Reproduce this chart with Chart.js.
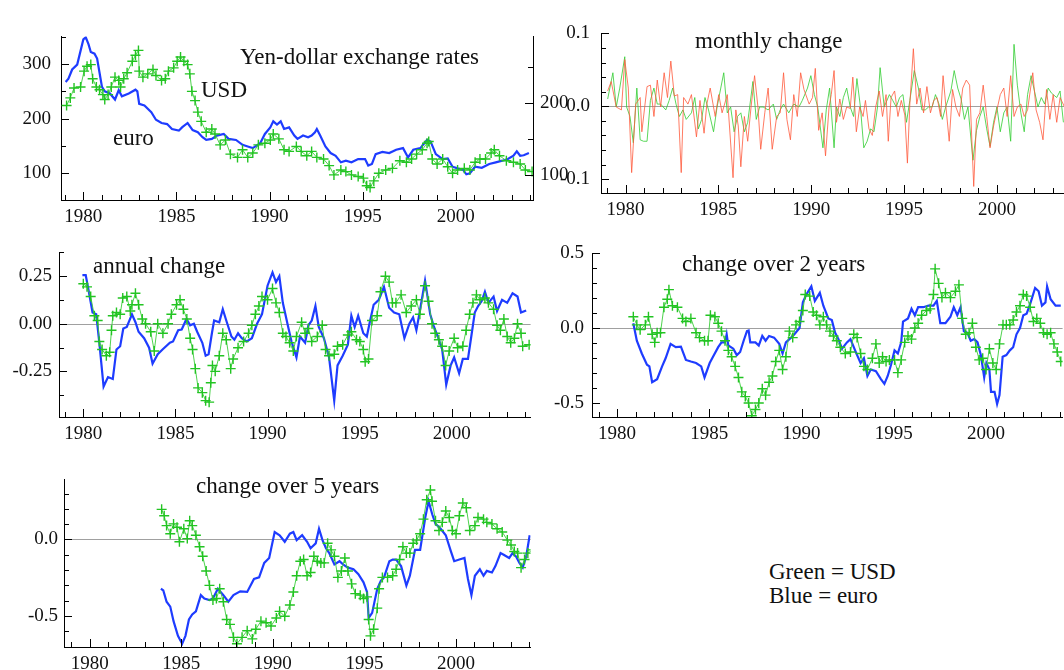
<!DOCTYPE html>
<html>
<head>
<meta charset="utf-8">
<script src="https://cdn.jsdelivr.net/npm/chart.js@4.4.0/dist/chart.umd.min.js"></script>
<style>
  html, body { margin: 0; padding: 0; width: 1064px; height: 670px; overflow: hidden; background: #fff; }
  canvas { position: absolute; }
  .lbl { position: absolute; font: 23px "Liberation Serif", serif; line-height: 23px; color: #111; white-space: nowrap; }
</style>
</head>
<body>
<canvas id="p1"></canvas>
<canvas id="p2"></canvas>
<canvas id="p3"></canvas>
<canvas id="p4"></canvas>
<canvas id="p5"></canvas>

<div class="lbl" style="left:240px;top:45px">Yen-dollar exchange rates</div>
<div class="lbl" style="left:201px;top:78px">USD</div>
<div class="lbl" style="left:113px;top:126px">euro</div>
<div class="lbl" style="left:695px;top:29px">monthly change</div>
<div class="lbl" style="left:93px;top:254px">annual change</div>
<div class="lbl" style="left:682px;top:252px">change over 2 years</div>
<div class="lbl" style="left:196px;top:474px">change over 5 years</div>
<div class="lbl" style="left:769px;top:560px">Green = USD</div>
<div class="lbl" style="left:769px;top:584px">Blue = euro</div>

<script>
// ---- data: [year, value] ----
const usdLevel = [[1979.1,224],[1979.3,238],[1979.5,256],[1979.85,258],[1980.04,287],[1980.2,296],[1980.4,299],[1980.5,273],[1980.7,258],[1980.87,253],[1981.05,244],[1981.15,235],[1981.33,244],[1981.5,258],[1981.7,276],[1981.9,270],[1982,258],[1982.17,273],[1982.35,284],[1982.63,305],[1982.8,316],[1982.96,325],[1983,287],[1983.2,276],[1983.46,282],[1983.74,290],[1983.9,279],[1984.2,270],[1984.4,273],[1984.57,287],[1984.85,293],[1985.04,305],[1985.22,313],[1985.4,305],[1985.6,299],[1985.72,282],[1985.83,250],[1986,233],[1986.15,212],[1986.33,195],[1986.6,175],[1986.9,181],[1987.07,172],[1987.35,152],[1987.63,161],[1987.9,135],[1988.28,129],[1988.55,143],[1988.83,129],[1989.1,137],[1989.4,152],[1989.75,155],[1990.04,161],[1990.2,172],[1990.5,163],[1990.78,143],[1991.05,140],[1991.44,149],[1991.7,140],[1992,132],[1992.26,140],[1992.54,129],[1992.9,126],[1993.2,114],[1993.46,97],[1993.83,106],[1994.1,103],[1994.4,97],[1994.76,94],[1995.04,91],[1995.22,77],[1995.4,74],[1995.6,86],[1995.87,100],[1996.24,106],[1996.6,109],[1997,123],[1997.35,120],[1997.63,126],[1997.9,135],[1998.2,143],[1998.46,155],[1998.55,158],[1998.74,126],[1999,117],[1999.3,126],[1999.57,112],[1999.83,100],[2000.1,106],[2000.46,109],[2000.76,106],[2001.04,120],[2001.3,126],[2001.6,126],[2001.9,137],[2002.07,143],[2002.35,132],[2002.72,123],[2003.1,120],[2003.46,117],[2003.74,106],[2004.1,103]];

const euroLevel = [[1979.05,267],[1979.2,273],[1979.4,290],[1979.67,299],[1980,345],[1980.13,349],[1980.28,336],[1980.4,322],[1980.6,319],[1980.74,310],[1980.87,284],[1981,258],[1981.15,250],[1981.43,246],[1981.7,235],[1981.9,252],[1982.07,241],[1982.44,246],[1982.8,253],[1982.9,250],[1983,227],[1983.28,224],[1983.65,212],[1983.9,198],[1984.2,192],[1984.5,190],[1984.76,181],[1985.13,178],[1985.3,184],[1985.6,192],[1985.87,179],[1986.15,175],[1986.4,166],[1986.6,161],[1986.9,163],[1987.17,169],[1987.54,172],[1987.8,163],[1988.2,161],[1988.55,152],[1988.83,149],[1989.1,146],[1989.5,155],[1989.75,172],[1990.04,184],[1990.2,195],[1990.4,189],[1990.6,195],[1990.78,181],[1991.05,184],[1991.33,169],[1991.5,163],[1991.8,169],[1992.07,166],[1992.26,169],[1992.44,175],[1992.54,181],[1992.72,169],[1993,149],[1993.28,137],[1993.55,132],[1993.83,120],[1994.1,123],[1994.4,120],[1994.76,126],[1995.13,126],[1995.3,114],[1995.5,117],[1995.7,135],[1996.06,139],[1996.43,137],[1996.8,143],[1997.17,146],[1997.44,129],[1997.72,143],[1998.1,146],[1998.46,161],[1998.65,158],[1998.93,135],[1999.3,126],[1999.57,127],[1999.83,112],[2000.1,109],[2000.4,106],[2000.57,98],[2000.76,100],[2001.04,112],[2001.4,110],[2001.8,117],[2002.15,120],[2002.5,123],[2002.8,126],[2003.1,132],[2003.28,140],[2003.46,132],[2003.65,133],[2003.93,137]];

const euroMonthly = [[1979.04,0.021],[1979.23,0.034],[1979.5,-0.001],[1979.78,-0.005],[1979.96,0.064],[1980.15,0.025],[1980.33,-0.091],[1980.55,0.003],[1980.79,0.012],[1980.88,-0.035],[1981.16,0.027],[1981.34,0.029],[1981.53,-0.014],[1981.71,0.036],[1981.89,-0.001],[1982.08,0.046],[1982.26,0.012],[1982.44,0.062],[1982.63,0.014],[1982.81,0.016],[1983.0,-0.091],[1983.13,0.012],[1983.36,0.003],[1983.55,0.016],[1983.82,-0.042],[1984.01,0.008],[1984.23,-0.037],[1984.38,0.003],[1984.56,0.025],[1984.83,-0.014],[1985.02,0.016],[1985.2,-0.009],[1985.48,0.016],[1985.79,-0.098],[1985.94,-0.005],[1986.07,-0.027],[1986.21,-0.083],[1986.4,-0.014],[1986.58,-0.048],[1986.76,-0.001],[1986.95,0.042],[1987.13,-0.001],[1987.28,-0.059],[1987.5,-0.009],[1987.68,0.025],[1987.9,-0.059],[1988.14,-0.014],[1988.33,-0.009],[1988.51,0.046],[1988.69,-0.018],[1988.88,-0.046],[1989.06,0.016],[1989.25,-0.014],[1989.43,0.046],[1989.61,0.023],[1989.89,0.003],[1990.07,0.012],[1990.22,0.052],[1990.4,-0.033],[1990.59,-0.009],[1990.77,-0.068],[1990.96,-0.001],[1991.08,0.016],[1991.23,0.049],[1991.36,-0.022],[1991.54,0.01],[1991.73,-0.018],[1991.91,-0.001],[1992.1,-0.003],[1992.24,0.04],[1992.43,-0.035],[1992.61,-0.001],[1992.79,-0.014],[1992.92,0.008],[1993.11,-0.031],[1993.29,-0.04],[1993.47,-0.001],[1993.66,0.021],[1993.84,-0.014],[1994.03,0.016],[1994.15,-0.048],[1994.3,0.012],[1994.49,0.021],[1994.67,-0.014],[1994.85,0.008],[1995.04,-0.012],[1995.18,-0.078],[1995.31,0.003],[1995.5,0.079],[1995.68,0.003],[1995.86,0.025],[1996.05,-0.009],[1996.23,0.027],[1996.42,-0.009],[1996.6,0.008],[1996.78,0.012],[1996.97,-0.014],[1997.1,0.042],[1997.24,0.003],[1997.43,-0.048],[1997.61,0.023],[1997.79,-0.001],[1997.98,-0.014],[1998.16,0.025],[1998.35,0.036],[1998.53,0.029],[1998.75,-0.11],[1998.9,-0.018],[1999.08,-0.009],[1999.26,0.029],[1999.45,-0.014],[1999.63,-0.057],[1999.82,-0.027],[2000,-0.005],[2000.18,0.016],[2000.37,0.025],[2000.55,-0.014],[2000.74,0.042],[2000.92,-0.014],[2001.1,-0.001],[2001.29,0.003],[2001.47,-0.014],[2001.65,-0.005],[2001.93,0.046],[2002.11,-0.005],[2002.3,-0.022],[2002.48,-0.046],[2002.67,0.023],[2002.85,-0.018],[2003.03,0.016],[2003.22,-0.022],[2003.4,0.012],[2003.64,-0.001]];

const usdMonthly = [[1979.04,0.01],[1979.32,0.046],[1979.5,-0.001],[1979.69,0.025],[1979.96,0.068],[1980.06,-0.001],[1980.24,-0.014],[1980.42,-0.05],[1980.61,0.025],[1980.79,-0.046],[1980.97,-0.048],[1981.16,-0.048],[1981.34,0.008],[1981.53,0.025],[1981.71,0.003],[1981.89,0.003],[1982.17,-0.005],[1982.35,0.008],[1982.54,0.025],[1982.72,0.003],[1982.9,-0.014],[1983.09,-0.005],[1983.27,-0.018],[1983.55,-0.009],[1983.73,0.012],[1983.92,-0.031],[1984.1,-0.018],[1984.28,0.012],[1984.47,-0.005],[1984.74,-0.035],[1984.93,-0.001],[1985.29,0.046],[1985.48,-0.009],[1985.66,-0.001],[1985.85,-0.035],[1986.03,-0.014],[1986.21,-0.009],[1986.4,-0.035],[1986.58,-0.022],[1986.86,0.034],[1987.04,-0.018],[1987.22,-0.001],[1987.41,-0.001],[1987.68,-0.005],[1987.96,0.003],[1988.14,-0.018],[1988.33,-0.005],[1988.51,0.003],[1988.79,-0.009],[1989.06,0.003],[1989.34,-0.001],[1989.52,0.008],[1989.8,0.025],[1989.98,0.042],[1990.17,0.016],[1990.35,-0.001],[1990.63,-0.057],[1990.81,-0.005],[1990.99,0.025],[1991.23,-0.057],[1991.36,-0.001],[1991.54,-0.014],[1991.73,0.012],[1991.91,0.025],[1992.1,-0.001],[1992.28,-0.014],[1992.46,0.038],[1992.65,-0.001],[1992.83,-0.057],[1993.01,-0.048],[1993.2,-0.031],[1993.38,-0.035],[1993.57,-0.001],[1993.71,0.053],[1993.93,-0.001],[1994.21,0.016],[1994.39,0.008],[1994.58,-0.001],[1994.76,0.012],[1994.94,0.016],[1995.13,-0.022],[1995.31,0.008],[1995.55,0.049],[1995.77,0.025],[1995.96,-0.005],[1996.14,-0.005],[1996.32,-0.001],[1996.51,-0.001],[1996.69,0.016],[1996.88,0.003],[1997.06,-0.018],[1997.24,-0.001],[1997.52,0.021],[1997.7,0.049],[1997.89,0.025],[1998.07,0.01],[1998.25,-0.018],[1998.44,-0.001],[1998.71,-0.074],[1998.9,-0.033],[1999.08,-0.014],[1999.26,-0.001],[1999.45,-0.031],[1999.63,-0.055],[1999.82,-0.022],[2000,-0.001],[2000.18,-0.035],[2000.37,-0.009],[2000.55,-0.001],[2000.74,-0.048],[2000.92,0.085],[2001.1,0.029],[2001.29,-0.009],[2001.47,-0.035],[2001.65,0.016],[2001.84,0.042],[2002.02,0.021],[2002.21,-0.001],[2002.39,0.012],[2002.57,0.003],[2002.76,0.025],[2002.94,0.018],[2003.22,0.012],[2003.4,0.021],[2003.58,-0.022]];

const euroAnnual = [[1979.95,0.256],[1980.13,0.256],[1980.3,0.168],[1980.5,0.059],[1980.7,0.05],[1980.87,-0.1],[1981.1,-0.33],[1981.34,-0.28],[1981.6,-0.29],[1981.8,-0.135],[1982,-0.118],[1982.17,-0.025],[1982.36,-0.017],[1982.64,0.05],[1982.83,0.008],[1983,-0.042],[1983.3,-0.076],[1983.57,-0.126],[1983.76,-0.21],[1984.04,-0.16],[1984.3,-0.135],[1984.7,-0.1],[1984.87,-0.093],[1985.15,-0.034],[1985.34,-0.03],[1985.6,0.025],[1985.8,-0.008],[1986,0],[1986.18,-0.042],[1986.46,-0.1],[1986.64,-0.168],[1986.8,-0.16],[1986.98,-0.05],[1987.1,0.017],[1987.38,0.008],[1987.57,0.076],[1987.76,0.017],[1988.04,-0.067],[1988.2,-0.084],[1988.4,-0.05],[1988.6,-0.076],[1988.87,-0.093],[1989.15,-0.076],[1989.43,0],[1989.7,0.05],[1990,0.2],[1990.27,0.27],[1990.46,0.219],[1990.64,0.25],[1990.83,0.11],[1991.1,-0.008],[1991.3,-0.093],[1991.57,-0.177],[1991.76,-0.067],[1992.04,-0.1],[1992.22,-0.008],[1992.4,0.017],[1992.6,0.093],[1992.78,-0.017],[1993.06,-0.076],[1993.34,-0.177],[1993.62,-0.404],[1993.8,-0.219],[1994.08,-0.168],[1994.36,-0.11],[1994.55,0.042],[1994.73,-0.017],[1994.92,0.042],[1995.2,-0.05],[1995.39,-0.067],[1995.57,0.017],[1995.76,0.1],[1996.04,0.126],[1996.32,0.194],[1996.6,0.084],[1996.87,0.059],[1997.15,0.05],[1997.43,-0.076],[1997.7,0],[1997.9,0.034],[1998.08,-0.034],[1998.27,0.067],[1998.55,0.227],[1998.83,0.05],[1999.01,-0.008],[1999.3,-0.084],[1999.48,-0.135],[1999.7,-0.32],[1999.94,-0.219],[2000.13,-0.177],[2000.4,-0.26],[2000.6,-0.185],[2000.88,-0.185],[2001.06,-0.067],[2001.25,0.059],[2001.43,0.093],[2001.62,0.118],[2001.8,0.168],[2001.99,0.11],[2002.27,0.143],[2002.46,0.067],[2002.73,0.126],[2003.01,0.11],[2003.3,0.16],[2003.57,0.143],[2003.76,0.059],[2004.04,0.07]];

const usdAnnual = [[1980,0.21],[1980.2,0.194],[1980.4,0.143],[1980.6,0.042],[1980.78,0.017],[1980.87,-0.093],[1981.02,-0.135],[1981.25,-0.168],[1981.43,-0.15],[1981.53,-0.034],[1981.6,0.042],[1981.8,0.059],[1982,0.05],[1982.14,0.135],[1982.36,0.143],[1982.55,0.067],[1982.64,0.1],[1982.83,0.16],[1983,0.1],[1983.2,0.025],[1983.38,0],[1983.66,-0.042],[1983.85,-0.143],[1984.04,0],[1984.32,-0.05],[1984.6,0],[1984.78,0.05],[1985.06,0.1],[1985.25,0.126],[1985.43,0.076],[1985.62,0.025],[1985.8,-0.076],[1985.93,-0.135],[1986.08,-0.236],[1986.23,-0.337],[1986.46,-0.362],[1986.64,-0.404],[1986.83,-0.412],[1986.92,-0.31],[1987.01,-0.219],[1987.16,-0.25],[1987.38,-0.168],[1987.57,-0.05],[1987.76,-0.084],[1988,-0.236],[1988.13,-0.185],[1988.4,-0.126],[1988.7,-0.093],[1988.97,-0.05],[1989.15,-0.008],[1989.34,0.05],[1989.53,0.093],[1989.7,0.143],[1990,0.126],[1990.27,0.185],[1990.46,0.11],[1990.64,0.059],[1990.83,-0.05],[1991,-0.067],[1991.2,-0.1],[1991.4,-0.143],[1991.57,-0.067],[1991.85,0.008],[1992.04,-0.05],[1992.22,-0.025],[1992.4,-0.093],[1992.7,-0.067],[1992.97,-0.008],[1993.15,-0.135],[1993.34,-0.168],[1993.62,-0.16],[1993.8,-0.118],[1994.08,-0.11],[1994.36,-0.059],[1994.55,-0.042],[1994.83,-0.084],[1995.01,-0.093],[1995.2,-0.135],[1995.3,-0.2],[1995.48,-0.185],[1995.67,0.017],[1995.95,0.042],[1996.13,0.168],[1996.4,0.25],[1996.6,0.219],[1996.78,0.11],[1996.97,0.11],[1997.25,0.152],[1997.53,0.059],[1997.8,0.093],[1998.08,0.126],[1998.27,0.05],[1998.55,0.2],[1998.74,0.118],[1998.93,0],[1999.1,-0.05],[1999.3,-0.084],[1999.48,-0.118],[1999.67,-0.219],[1999.86,-0.143],[2000.13,-0.076],[2000.32,-0.126],[2000.6,-0.118],[2000.78,-0.034],[2000.97,0.05],[2001.15,0.11],[2001.34,0.152],[2001.53,0.126],[2001.8,0.135],[2001.99,0.11],[2002.27,0.076],[2002.46,-0.008],[2002.64,-0.034],[2002.83,0.025],[2003.01,-0.067],[2003.2,-0.1],[2003.4,-0.076],[2003.57,0],[2003.76,-0.05],[2003.85,-0.118],[2004.2,-0.11]];

const euro2yr = [[1980.88,0.034],[1981.07,-0.083],[1981.34,-0.168],[1981.62,-0.243],[1981.75,-0.254],[1981.9,-0.36],[1982.17,-0.34],[1982.44,-0.254],[1982.63,-0.2],[1982.9,-0.104],[1983.18,-0.126],[1983.46,-0.122],[1983.73,-0.211],[1984,-0.222],[1984.28,-0.232],[1984.56,-0.254],[1984.74,-0.328],[1985.02,-0.232],[1985.2,-0.19],[1985.48,-0.126],[1985.66,-0.094],[1985.85,-0.094],[1985.94,-0.04],[1986.03,-0.115],[1986.3,-0.136],[1986.49,-0.179],[1986.67,-0.158],[1986.86,-0.083],[1987.04,-0.019],[1987.13,-0.015],[1987.22,-0.094],[1987.5,-0.094],[1987.68,-0.115],[1987.87,-0.051],[1988.05,-0.083],[1988.24,-0.051],[1988.51,-0.062],[1988.79,-0.104],[1988.97,-0.168],[1989.15,-0.094],[1989.43,-0.062],[1989.61,-0.04],[1989.89,0.002],[1990.07,0.173],[1990.26,0.226],[1990.53,0.28],[1990.72,0.183],[1990.99,0.237],[1991.18,0.151],[1991.45,0.066],[1991.64,0.055],[1991.82,-0.03],[1992,-0.072],[1992.19,-0.136],[1992.46,-0.094],[1992.65,-0.072],[1992.83,-0.126],[1993.01,-0.179],[1993.2,-0.232],[1993.38,-0.2],[1993.57,-0.318],[1993.75,-0.275],[1994.03,-0.286],[1994.3,-0.339],[1994.49,-0.371],[1994.67,-0.318],[1994.85,-0.243],[1995.04,-0.147],[1995.22,-0.168],[1995.4,-0.094],[1995.5,0.045],[1995.77,0.066],[1995.96,0.13],[1996.14,0.087],[1996.32,0.141],[1996.6,0.141],[1996.88,0.151],[1997.15,0.151],[1997.33,0.183],[1997.52,0.034],[1997.8,0.034],[1998.07,0.077],[1998.25,0.141],[1998.44,0.087],[1998.62,0.141],[1998.8,-0.019],[1998.99,-0.03],[1999.17,-0.083],[1999.36,-0.072],[1999.54,-0.094],[1999.72,-0.179],[1999.9,-0.328],[2000.02,-0.232],[2000.18,-0.275],[2000.27,-0.424],[2000.46,-0.424],[2000.6,-0.505],[2000.73,-0.446],[2000.9,-0.19],[2001.1,-0.179],[2001.29,-0.147],[2001.47,-0.126],[2001.65,-0.04],[2001.84,0.002],[2002.02,0.087],[2002.2,0.098],[2002.39,0.162],[2002.66,0.269],[2002.85,0.247],[2003.03,0.151],[2003.22,0.173],[2003.31,0.28],[2003.5,0.194],[2003.77,0.151],[2004.05,0.151]];

const usd2yr = [[1980.88,0.077],[1981.07,0.023],[1981.25,-0.009],[1981.53,0.023],[1981.7,0.077],[1981.9,-0.04],[1982.04,-0.094],[1982.17,-0.03],[1982.35,-0.03],[1982.54,0.141],[1982.72,0.194],[1982.81,0.258],[1983,0.151],[1983.27,0.141],[1983.55,0.066],[1983.73,0.045],[1984,0.066],[1984.28,-0.03],[1984.47,-0.062],[1984.74,-0.083],[1984.93,-0.083],[1985.06,0.087],[1985.3,0.077],[1985.48,0.034],[1985.66,-0.019],[1985.85,-0.083],[1986.03,-0.147],[1986.21,-0.19],[1986.4,-0.254],[1986.58,-0.328],[1986.76,-0.424],[1986.95,-0.456],[1987.13,-0.499],[1987.3,-0.584],[1987.5,-0.542],[1987.68,-0.499],[1987.87,-0.403],[1988.05,-0.446],[1988.24,-0.36],[1988.42,-0.318],[1988.6,-0.222],[1988.79,-0.147],[1988.97,-0.275],[1989.15,-0.19],[1989.34,-0.019],[1989.52,-0.062],[1989.7,0.023],[1989.89,0.045],[1990.07,0.119],[1990.2,0.226],[1990.44,0.215],[1990.63,0.109],[1990.81,0.087],[1990.99,0.023],[1991.18,0.077],[1991.36,0.023],[1991.54,-0.019],[1991.73,-0.051],[1991.91,-0.083],[1992.1,-0.126],[1992.37,-0.168],[1992.65,-0.158],[1992.83,-0.04],[1993.01,-0.062],[1993.2,-0.168],[1993.38,-0.254],[1993.57,-0.275],[1993.84,-0.2],[1994.03,-0.104],[1994.21,-0.232],[1994.39,-0.19],[1994.58,-0.222],[1994.76,-0.211],[1995.04,-0.211],[1995.22,-0.296],[1995.4,-0.211],[1995.59,-0.094],[1995.77,-0.051],[1995.96,-0.072],[1996.14,0.002],[1996.32,0.034],[1996.51,0.087],[1996.78,0.119],[1996.97,0.13],[1997.15,0.226],[1997.24,0.397],[1997.43,0.3],[1997.61,0.205],[1997.8,0.237],[1998.07,0.205],[1998.34,0.247],[1998.53,0.29],[1998.71,0.066],[1998.9,-0.04],[1999.08,-0.03],[1999.26,0.034],[1999.45,-0.126],[1999.63,-0.211],[1999.82,-0.2],[2000,-0.275],[2000.18,-0.136],[2000.37,-0.232],[2000.55,-0.275],[2000.73,-0.104],[2000.92,0.023],[2001.1,0.023],[2001.29,0.023],[2001.47,0.055],[2001.65,0.109],[2001.84,0.151],[2002.02,0.226],[2002.2,0.215],[2002.39,0.141],[2002.57,0.045],[2002.75,0.066],[2002.94,0.034],[2003.12,-0.03],[2003.31,-0.04],[2003.5,-0.03],[2003.68,-0.104],[2003.86,-0.158],[2004.05,-0.222]];

const euro5yr = [[1983.89,-0.322],[1984.02,-0.333],[1984.2,-0.407],[1984.4,-0.439],[1984.58,-0.534],[1984.82,-0.63],[1985.05,-0.682],[1985.23,-0.63],[1985.42,-0.523],[1985.6,-0.49],[1985.8,-0.47],[1986.07,-0.364],[1986.26,-0.386],[1986.54,-0.396],[1986.73,-0.386],[1987,-0.322],[1987.3,-0.364],[1987.57,-0.407],[1987.85,-0.364],[1988.22,-0.339],[1988.6,-0.343],[1988.97,-0.258],[1989.25,-0.248],[1989.53,-0.153],[1989.8,-0.121],[1990.1,0.049],[1990.37,0.028],[1990.65,-0.015],[1990.93,0.038],[1991.12,0.049],[1991.3,-0.004],[1991.6,0.028],[1991.87,-0.015],[1992.06,-0.057],[1992.34,-0.025],[1992.52,0.07],[1992.71,-0.004],[1992.9,-0.057],[1993.08,-0.089],[1993.36,-0.163],[1993.64,-0.142],[1993.83,-0.163],[1994.1,-0.184],[1994.4,-0.195],[1994.67,-0.227],[1994.95,-0.28],[1995.14,-0.343],[1995.23,-0.513],[1995.42,-0.48],[1995.7,-0.322],[1995.9,-0.269],[1996.07,-0.248],[1996.36,-0.142],[1996.54,-0.131],[1996.73,-0.131],[1997,-0.174],[1997.29,-0.301],[1997.48,-0.237],[1997.76,-0.068],[1998.04,-0.068],[1998.32,0.144],[1998.5,0.25],[1998.7,0.165],[1998.88,0.102],[1999.16,0.07],[1999.44,0.028],[1999.72,-0.078],[1999.9,-0.142],[2000.18,-0.131],[2000.46,-0.121],[2000.65,-0.258],[2000.84,-0.364],[2001.03,-0.237],[2001.3,-0.195],[2001.5,-0.237],[2001.68,-0.205],[2001.96,-0.216],[2002.15,-0.174],[2002.43,-0.089],[2002.6,-0.1],[2002.9,-0.121],[2003.08,-0.089],[2003.27,-0.11],[2003.46,-0.153],[2003.64,-0.184],[2003.83,-0.11],[2004.02,0.028]];

const usd5yr = [[1983.93,0.197],[1984.07,0.155],[1984.2,0.091],[1984.4,0.038],[1984.58,0.102],[1984.77,0.08],[1984.9,-0.015],[1985.14,0.07],[1985.33,0.006],[1985.46,0.123],[1985.6,0.091],[1985.8,0.028],[1986,-0.047],[1986.17,-0.11],[1986.36,-0.206],[1986.54,-0.3],[1986.73,-0.396],[1986.92,-0.386],[1987.1,-0.322],[1987.3,-0.407],[1987.48,-0.523],[1987.66,-0.555],[1987.85,-0.64],[1988.04,-0.682],[1988.32,-0.64],[1988.6,-0.597],[1988.88,-0.65],[1989.07,-0.587],[1989.35,-0.534],[1989.63,-0.544],[1989.9,-0.566],[1990.19,-0.513],[1990.37,-0.47],[1990.65,-0.502],[1990.93,-0.428],[1991.12,-0.343],[1991.3,-0.237],[1991.5,-0.142],[1991.68,-0.131],[1991.87,-0.237],[1992.06,-0.216],[1992.24,-0.11],[1992.43,-0.142],[1992.62,-0.153],[1992.8,-0.153],[1992.99,-0.025],[1993.18,-0.068],[1993.36,-0.11],[1993.55,-0.248],[1993.74,-0.206],[1993.93,-0.121],[1994.1,-0.206],[1994.3,-0.29],[1994.5,-0.354],[1994.77,-0.364],[1994.95,-0.386],[1995.14,-0.375],[1995.23,-0.523],[1995.33,-0.63],[1995.5,-0.587],[1995.7,-0.449],[1995.8,-0.322],[1995.98,-0.248],[1996.26,-0.248],[1996.54,-0.237],[1996.73,-0.195],[1996.92,-0.131],[1997.1,-0.047],[1997.29,-0.089],[1997.48,-0.089],[1997.66,-0.025],[1997.85,-0.004],[1998.04,0.038],[1998.22,0.133],[1998.4,0.26],[1998.6,0.324],[1998.69,0.25],[1998.88,0.123],[1999.07,0.059],[1999.25,0.112],[1999.44,0.186],[1999.63,0.144],[1999.8,0.059],[2000,0.038],[2000.18,0.155],[2000.37,0.239],[2000.56,0.208],[2000.75,0.059],[2001.03,0.091],[2001.2,0.144],[2001.5,0.133],[2001.68,0.112],[2001.96,0.102],[2002.24,0.07],[2002.52,0.049],[2002.8,-0.004],[2003,-0.036],[2003.18,-0.078],[2003.36,-0.089],[2003.55,-0.184],[2003.74,-0.131],[2003.92,-0.089],[2004.2,-0.068]];

// labelled ticks
const yearTicks = [1980, 1985, 1990, 1995, 2000];
const levelTicks = [100, 200, 300];
const levelRightTicks = [100, 200];
const monthlyTicks = [-0.1, 0, 0.1];
const annualTicks = [-0.25, 0, 0.25];
const twoYearTicks = [-0.5, 0, 0.5];
const fiveYearTicks = [-0.5, 0];

// ---- look ----
Chart.defaults.font.family = '"Liberation Serif", serif';
Chart.defaults.font.size = 19;
Chart.defaults.color = '#111';

const PADL = 70, PADT = 12, PADB = 40;

function xy(pts) { return pts.map(p => ({ x: p[0], y: p[1] })); }

function usdSet(pts) {
  return { data: xy(pts), showLine: true, borderColor: 'rgba(60,205,60,0.9)', borderWidth: 1,
    pointStyle: 'cross', pointRadius: 5, pointBorderColor: '#22c422', pointBorderWidth: 1.4,
    pointBackgroundColor: '#22c422' };
}
function euroSet(pts) {
  return { data: xy(pts), showLine: true, borderColor: '#1e3cff', borderWidth: 2.2, pointRadius: 0 };
}
function thinSet(pts, col) {
  return { data: xy(pts), showLine: true, borderColor: col, borderWidth: 1, pointRadius: 0 };
}

// inward tick marks + zero line
function tickPlugin(o) {
  return {
    id: 'inTicks',
    beforeDatasetsDraw(chart) {
      if (!o.zero) return;
      const ctx = chart.ctx, a = chart.chartArea, ys = chart.scales.y;
      const py = Math.round(ys.getPixelForValue(0)) + 0.5;
      ctx.save();
      ctx.strokeStyle = '#a0a0a0'; ctx.lineWidth = 1;
      ctx.beginPath(); ctx.moveTo(a.left, py); ctx.lineTo(a.right, py); ctx.stroke();
      ctx.restore();
    },
    afterDraw(chart) {
      const ctx = chart.ctx, a = chart.chartArea;
      const xs = chart.scales.x;
      ctx.save();
      ctx.strokeStyle = '#000'; ctx.lineWidth = 1;
      ctx.beginPath();
      for (let v = Math.ceil(xs.min); v <= xs.max; v++) {
        const px = Math.round(xs.getPixelForValue(v)) + 0.5;
        const len = v % 5 === 0 ? 8 : 5;
        ctx.moveTo(px, a.bottom); ctx.lineTo(px, a.bottom - len);
      }
      const axes = [['y', a.left, 1, o.yMinor, o.yMajor]];
      if (o.y2) axes.push(['y2', a.right, -1, o.y2Minor, o.y2Major]);
      axes.forEach(([id, x0, dir, minor, major]) => {
        const s = chart.scales[id];
        for (let k = Math.ceil(s.min / minor - 1e-9); k * minor <= s.max + 1e-9; k++) {
          const v = k * minor;
          const py = Math.round(s.getPixelForValue(v)) + 0.5;
          const isMajor = Math.abs(v / major - Math.round(v / major)) < 1e-6;
          ctx.moveTo(x0, py); ctx.lineTo(x0 + dir * (isMajor ? 8 : 5), py);
        }
      });
      ctx.stroke();
      ctx.restore();
    }
  };
}

function setTicks(list) {
  return s => { s.ticks = list.map(v => ({ value: v })); };
}

function panel(id, box, xr, yr, datasets, o) {
  const cv = document.getElementById(id);
  const extraR = o.y2 ? 50 : 4;
  const w = (box.R - box.L) + PADL + extraR;
  const h = (box.B - box.T) + PADT + PADB;
  cv.width = w; cv.height = h;
  cv.style.left = (box.L - PADL) + 'px';
  cv.style.top = (box.T - PADT) + 'px';

  const scales = {
    x: {
      type: 'linear', min: xr[0], max: xr[1],
      grid: { display: false, drawTicks: false },
      border: { display: true, color: '#000', width: 1 },
      ticks: { autoSkip: false, maxRotation: 0, padding: 6, callback: v => String(v) },
      afterBuildTicks: setTicks(yearTicks),
      afterFit: s => { s.height = PADB; }
    },
    y: {
      min: yr[0], max: yr[1],
      grid: { display: false, drawTicks: false },
      border: { display: true, color: '#000', width: 1 },
      ticks: { autoSkip: false, padding: o.yPad, callback: v => o.fmt(v) },
      afterBuildTicks: setTicks(o.yTicks),
      afterFit: s => { s.width = PADL; }
    }
  };
  if (o.y2) {
    scales.y2 = {
      position: 'right', display: true, min: o.y2Range[0], max: o.y2Range[1],
      grid: { display: false, drawTicks: false },
      border: { display: true, color: '#000', width: 1 },
      ticks: { autoSkip: false, padding: 7, callback: v => String(v) },
      afterBuildTicks: setTicks(o.y2Ticks),
      afterFit: s => { s.width = extraR; }
    };
  }

  new Chart(cv, {
    type: 'scatter',
    data: { datasets: datasets },
    options: {
      responsive: false,
      animation: false,
      layout: { padding: { top: PADT, right: o.y2 ? 0 : extraR, left: 0, bottom: 0 } },
      plugins: { legend: { display: false }, tooltip: { enabled: false } },
      scales: scales
    },
    plugins: [tickPlugin(o)]
  });
}

// top left: levels
panel('p1', { L: 61, T: 27, R: 533, B: 200 }, [1978.8, 2004.15], [51, 350.6],
  [usdSet(usdLevel), euroSet(euroLevel)],
  { yTicks: levelTicks, yMajor: 100, yMinor: 50, yPad: 10, fmt: v => String(v),
    y2: true, y2Range: [64.5, 292.5], y2Ticks: levelRightTicks, y2Major: 100, y2Minor: 50 });

// top right: monthly change
panel('p2', { L: 601, T: 23, R: 1074, B: 193 }, [1978.68, 2004.15], [-0.119, 0.1],
  [thinSet(euroMonthly, 'rgba(255,90,60,0.8)'), thinSet(usdMonthly, 'rgba(50,205,50,0.8)')],
  { yTicks: monthlyTicks, yMajor: 0.1, yMinor: 0.02, yPad: 11, zero: true, fmt: v => v.toFixed(1) });

// middle left: annual change
panel('p3', { L: 59, T: 246, R: 533, B: 417 }, [1978.68, 2004.28], [-0.49, 0.375],
  [usdSet(usdAnnual), euroSet(euroAnnual)],
  { yTicks: annualTicks, yMajor: 0.25, yMinor: 0.125, yPad: 7, zero: true, fmt: v => v.toFixed(2) });

// middle right: change over 2 years
panel('p4', { L: 592, T: 246, R: 1065, B: 417 }, [1978.64, 2004.15], [-0.592, 0.5],
  [usdSet(usd2yr), euroSet(euro2yr)],
  { yTicks: twoYearTicks, yMajor: 0.5, yMinor: 0.1, yPad: 8, zero: true, fmt: v => v.toFixed(1) });

// bottom left: change over 5 years
panel('p5', { L: 64, T: 474, R: 533, B: 647 }, [1978.6, 2004.07], [-0.703, 0.393],
  [usdSet(usd5yr), euroSet(euro5yr)],
  { yTicks: fiveYearTicks, yMajor: 0.5, yMinor: 0.1, yPad: 6, zero: true, fmt: v => v.toFixed(1) });
</script>
</body>
</html>
